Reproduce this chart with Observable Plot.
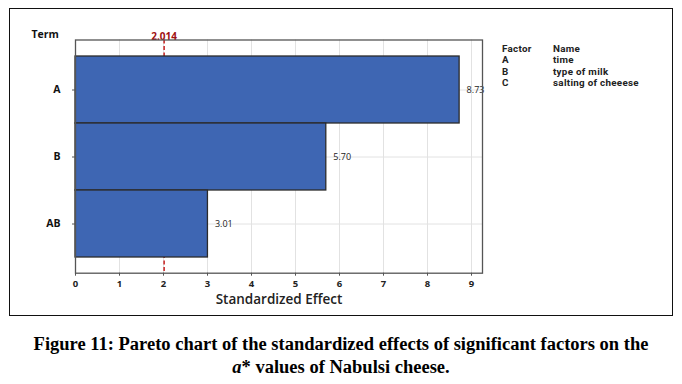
<!DOCTYPE html>
<html>
<head>
<meta charset="utf-8">
<script src="https://cdn.jsdelivr.net/npm/d3@7"></script>
<script src="https://cdn.jsdelivr.net/npm/@observablehq/plot@0.6"></script>
<style>
  html, body { margin: 0; padding: 0; background: #fff; }
  #wrap { position: relative; width: 682px; height: 384px; overflow: hidden; font-family: "Open Sans", sans-serif; }
  #border { position: absolute; left: 9px; top: 8px; width: 662px; height: 306px; border: 1.5px solid #111; box-sizing: content-box; }
  #chart { position: absolute; left: 0; top: 0; }
  .lg { position: absolute; font-family: Roboto, sans-serif; font-size: 9.8px; font-weight: 700; letter-spacing: 0.3px; color: #222; line-height: 11px; white-space: nowrap; }
  #caption { position: absolute; left: 0; top: 333px; width: 682px; text-align: center; font-family: "Liberation Serif", "Times New Roman", serif; font-weight: bold; font-size: 18.5px; line-height: 23px; color: #000; }
</style>
</head>
<body>
<div id="wrap">
  <div id="border"></div>
  <div id="chart"></div>
  <div id="legend"></div>
  <div id="caption">Figure 11: Pareto chart of the standardized effects of significant factors on the<br><i>a</i>* values of Nabulsi cheese.</div>
</div>
<script>
const terms = ["A", "B", "AB"];
const effects = [8.73, 5.70, 3.01];
const effectLabels = ["8.73", "5.70", "3.01"];
const xTicks = [0, 1, 2, 3, 4, 5, 6, 7, 8, 9];
const criticalValue = 2.014;
const factorCodes = ["A", "B", "C"];
const factorNames = ["time", "type of milk", "salting of cheeese"];

const data = terms.map((t, i) => ({term: t, effect: effects[i], label: effectLabels[i]}));

const chart = Plot.plot({
  width: 682,
  height: 320,
  marginLeft: 75,
  marginRight: 200,
  marginTop: 39.5,
  marginBottom: 47.3,
  style: {fontFamily: "'Open Sans', sans-serif", fontSize: "9px", color: "#222", background: "transparent"},
  x: {domain: [0, 9.25], ticks: xTicks, tickSize: 3},
  y: {domain: terms, paddingInner: 0, paddingOuter: 0.24, tickSize: 3, label: null},
  marks: [
    Plot.gridX(xTicks, {stroke: "#e2e2e2", strokeOpacity: 1}),
    Plot.gridY(terms, {stroke: "#e2e2e2", strokeOpacity: 1}),
    Plot.ruleX([criticalValue], {stroke: "#c00000", strokeWidth: 1.3, strokeDasharray: "4,2.5"}),
    Plot.barX(data, {x: "effect", y: "term", fill: "#3e66b3", stroke: "#2b2b2b", strokeWidth: 1.3}),
    Plot.text(data, {x: "effect", y: "term", text: "label", textAnchor: "start", dx: 7, fill: "#222", fontSize: 9, fontWeight: 500}),
    Plot.text([criticalValue], {x: d => d, frameAnchor: "top", lineAnchor: "bottom", text: d => d.toFixed(3), dy: -0.5, fill: "#a01010", fontWeight: 700, fontSize: 10}),
    Plot.text(["Term"], {frameAnchor: "top-left", lineAnchor: "bottom", text: d => d, dx: -44, dy: -2, textAnchor: "start", fontWeight: 700, fontSize: 10.5, fill: "#111"}),
    Plot.axisX({ticks: xTicks, tickSize: 3, tickPadding: 4, fontWeight: 700, fontSize: 9.5, stroke: "#555", fill: "#222", label: null}),
    Plot.text(["Standardized Effect"], {frameAnchor: "bottom", lineAnchor: "middle", text: d => d, dy: 26, fontSize: 13.5, fontWeight: 600, fill: "#222"}),
    Plot.axisY({tickSize: 3, tickPadding: 12, fontWeight: 700, fontSize: 10.5, stroke: "#555", fill: "#111", label: null}),
    Plot.frame({stroke: "#555", strokeWidth: 1.3})
  ]
});
document.getElementById("chart").appendChild(chart);

// legend from arrays
const rows = [["Factor", "Name"]].concat(factorCodes.map((c, i) => [c, factorNames[i]]));
const legend = document.getElementById("legend");
rows.forEach((r, i) => {
  [[r[0], 502], [r[1], 553]].forEach(([txt, x]) => {
    const d = document.createElement("div");
    d.className = "lg";
    d.textContent = txt;
    d.style.left = x + "px";
    d.style.top = (42.5 + i * 11.5) + "px";
    legend.appendChild(d);
  });
});
</script>
</body>
</html>
